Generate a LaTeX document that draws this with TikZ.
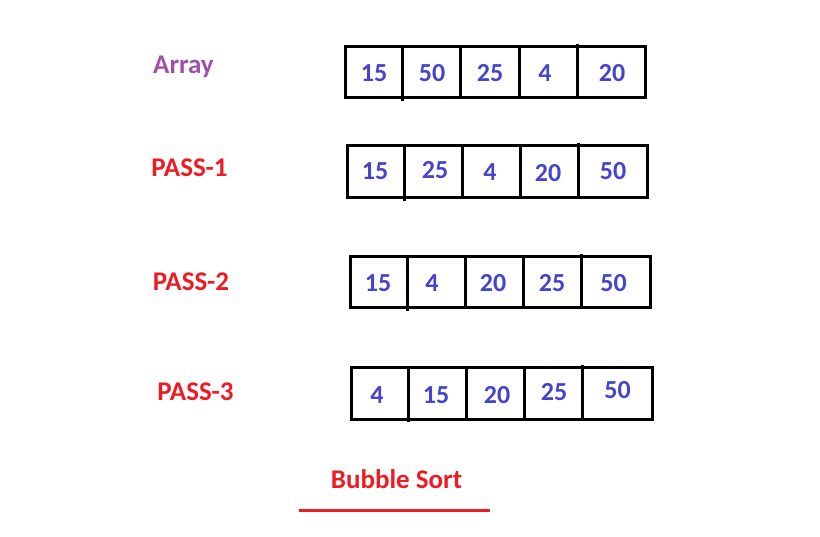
\documentclass[tikz,border=0pt]{standalone}
\usepackage{fontspec}
\setmainfont{Carlito}
\definecolor{numblue}{RGB}{68,68,204}
\definecolor{arrpurple}{RGB}{160,80,170}
\definecolor{passred}{RGB}{237,28,36}
\begin{document}
\begin{tikzpicture}[x=1pt,y=-1pt,
  cellline/.style={draw=black,line width=3pt},
  num/.style={text=numblue,font=\fontsize{26}{31}\selectfont\bfseries,inner sep=0pt},
  lab/.style={font=\fontsize{27}{32}\selectfont\bfseries,inner sep=0pt,anchor=base},
  uline/.style={draw=passred,line width=3pt}]
\useasboundingbox (0,0) rectangle (820,536);
% Row 0 : Array
\draw[cellline] (345,46.5) rectangle (645.5,97.5);
\draw[cellline] (402,46.5) -- (402,100.5);
\draw[cellline] (460,46.5) -- (460,97.5);
\draw[cellline] (519,46.5) -- (519,97.5);
\draw[cellline] (577,44) -- (577,97.5);
\node[num] (a1) at (374,73) {15};
\node[num] (a2) at (432,73) {50};
\node[num] (a3) at (490,73) {25};
\node[num] (a4) at (545,73) {4};
\node[num] (a5) at (612,73) {20};
\node[lab,text=arrpurple] (arr) at (183.5,73.5) {Array};
% Row 1 : PASS-1
\draw[cellline] (347,145) rectangle (647.5,197.5);
\draw[cellline] (404,145) -- (404,200.5);
\draw[cellline] (462.5,145) -- (462.5,197.5);
\draw[cellline] (520,145) -- (520,197.5);
\draw[cellline] (578.5,142.5) -- (578.5,197.5);
\node[num] (b1) at (375,171.5) {15};
\node[num] (b2) at (435,170) {25};
\node[num] (b3) at (490,172) {4};
\node[num] (b4) at (548,173.5) {20};
\node[num] (b5) at (613,171.5) {50};
\node[lab,text=passred] (p1) at (189.5,176.5) {PASS-1};
% Row 2 : PASS-2
\draw[cellline] (350.5,256.5) rectangle (650.5,307.5);
\draw[cellline] (407.5,256.5) -- (407.5,310.5);
\draw[cellline] (465.5,256.5) -- (465.5,307.5);
\draw[cellline] (523.5,256.5) -- (523.5,307.5);
\draw[cellline] (581.5,254) -- (581.5,307.5);
\node[num] (c1) at (378,283.5) {15};
\node[num] (c2) at (432,283.5) {4};
\node[num] (c3) at (493,283.5) {20};
\node[num] (c4) at (552,283.5) {25};
\node[num] (c5) at (613.5,283.5) {50};
\node[lab,text=passred] (p2) at (191,290) {PASS-2};
% Row 3 : PASS-3
\draw[cellline] (351.5,367.5) rectangle (652,419);
\draw[cellline] (408.5,367.5) -- (408.5,422);
\draw[cellline] (466.5,367.5) -- (466.5,419);
\draw[cellline] (524.5,367.5) -- (524.5,419);
\draw[cellline] (582.5,365) -- (582.5,419);
\node[num] (d1) at (377,395) {4};
\node[num] (d2) at (436,395) {15};
\node[num] (d3) at (497,395) {20};
\node[num] (d4) at (554,392) {25};
\node[num] (d5) at (617.5,390.5) {50};
\node[lab,text=passred] (p3) at (195.5,400) {PASS-3};
% Caption
\node[lab,text=passred] (cap) at (396.5,488.5) {Bubble Sort};
\coordinate (ul) at (299,510);
\coordinate (ur) at (490,510);
\draw[uline] (ul) -- (ur);
\end{tikzpicture}
\end{document}
